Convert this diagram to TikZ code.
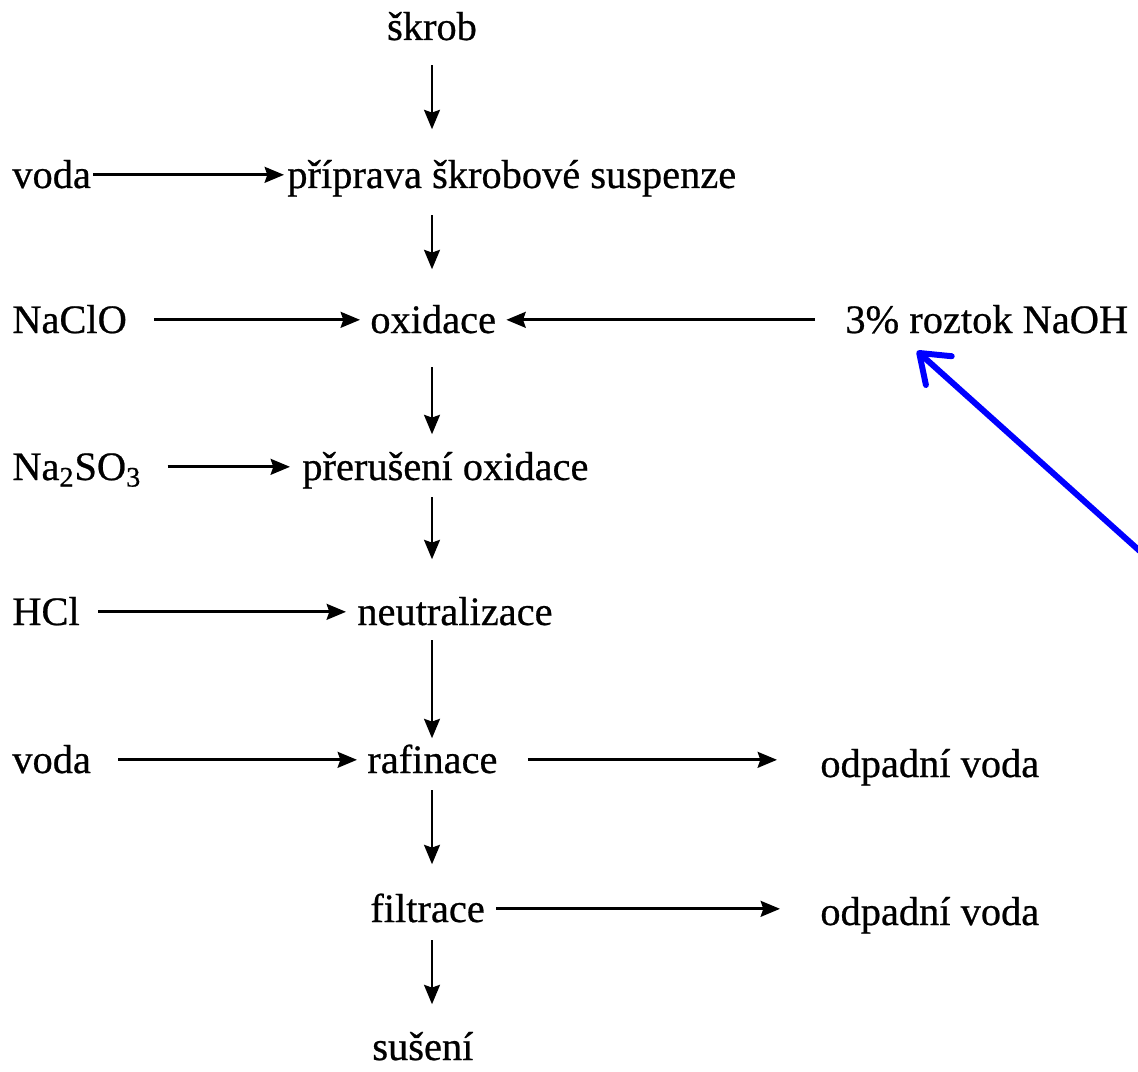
\documentclass[tikz,border=0pt]{standalone}
\usepackage{fontspec}
\setmainfont{Liberation Serif}[FakeBold=0.6]
\usetikzlibrary{arrows.meta}

\tikzset{
  step name/.style={inner sep=0pt, anchor=base west, text height=19pt, text depth=4pt,
    font=\fontsize{23pt}{28pt}\selectfont},
  flow/.style={-{Stealth[length=11pt,width=9pt,inset=1.5pt]}, line width=1.6pt},
  hint/.style={-{Straight Barb[length=15pt,width=22pt,round]}, line width=3.4pt, blue, line cap=round}
}

\begin{document}
\begin{tikzpicture}[x=0.02cm, y=-0.02cm]
   \useasboundingbox (0,0) rectangle (1138,1071);
   \coordinate (axis) at (432,0);
   % main line
   \node[step name, anchor=base] (skrob) at (432,40) {škrob};
   \node[step name] (suspenze) at (287,188) {příprava škrobové suspenze};
   \node[step name] (oxidace) at (370,333) {oxidace};
   \node[step name] (preruseni) at (302,480) {přerušení oxidace};
   \node[step name] (neutral) at (357,625) {neutralizace};
   \node[step name] (rafinace) at (367,773) {rafinace};
   \node[step name] (filtrace) at (370,922) {filtrace};
   \node[step name] (suseni) at (372,1060) {sušení};
   % inputs on the left
   \node[step name] (voda_a) at (12,188) {voda};
   \node[step name] (naclo) at (12,333) {NaClO};
   \node[step name] (nasulf) at (12,480) {Na\textsubscript{2}SO\textsubscript{3}};
   \node[step name] (hcl) at (12,625) {HCl};
   \node[step name] (voda_b) at (12,773) {voda};
   % right side
   \node[step name] (naoh) at (845,333) {3\% roztok NaOH};
   \node[step name] (odpad_a) at (820,777) {odpadní voda};
   \node[step name] (odpad_b) at (820,925) {odpadní voda};

   % downward arrows
   \draw[flow, shorten <=0.36cm, shorten >=0.5cm] (skrob.south -| axis) -- (suspenze.north -| axis);
   \draw[flow, shorten <=0.4cm, shorten >=0.6cm] (suspenze.south -| axis) -- (oxidace.north -| axis);
   \draw[flow, shorten <=0.54cm, shorten >=0.24cm] (oxidace.south -| axis) -- (preruseni.north -| axis);
   \draw[flow, shorten <=0.2cm, shorten >=0.64cm] (preruseni.south -| axis) -- (neutral.north -| axis);
   \draw[flow, shorten <=0.16cm, shorten >=0.02cm] (neutral.south -| axis) -- (rafinace.north -| axis);
   \draw[flow, shorten <=0.2cm, shorten >=0.48cm] (rafinace.south -| axis) -- (filtrace.north -| axis);
   \draw[flow, shorten <=0.22cm, shorten >=0.44cm] (filtrace.south -| axis) -- (suseni.north -| axis);

   % side arrows
   \draw[flow, shorten <=0.04cm, shorten >=0.06cm] (voda_a.east) -- (suspenze.west);
   \draw[flow, shorten <=0.54cm, shorten >=0.2cm] (naclo.east) -- (oxidace.west);
   \draw[flow, shorten <=0.6cm, shorten >=0.2cm] (naoh.west) -- (oxidace.east);
   \draw[flow, shorten <=0.52cm, shorten >=0.24cm] (nasulf.east) -- (preruseni.west);
   \draw[flow, shorten <=0.36cm, shorten >=0.22cm] (hcl.east) -- (neutral.west);
   \draw[flow, shorten <=0.54cm, shorten >=0.2cm] (voda_b.east) -- (rafinace.west);
   \draw[flow, shorten <=0.6cm, shorten >=0.86cm] (rafinace.east) -- (rafinace.east -| odpad_a.west);
   \draw[flow, shorten <=0.22cm, shorten >=0.8cm] (filtrace.east) -- (filtrace.east -| odpad_b.west);

   % pointer to the lye
   \coordinate (pointer) at (1152,562);
   \draw[hint] (pointer) -- ([xshift=1.44cm,yshift=-0.36cm]naoh.base west);
\end{tikzpicture}
\end{document}
